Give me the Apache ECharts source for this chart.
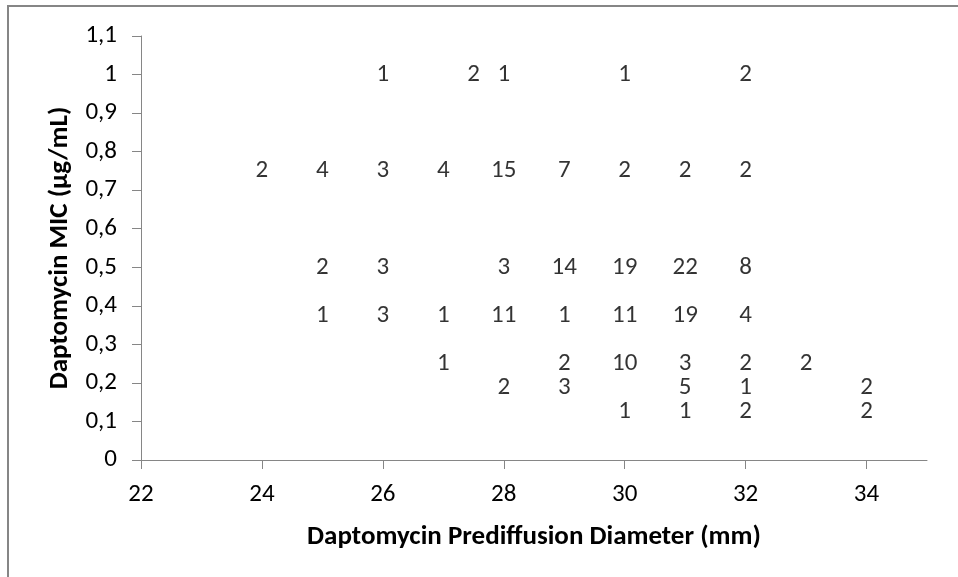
<!DOCTYPE html>
<html>
<head>
<meta charset="utf-8">
<script src="https://cdn.jsdelivr.net/npm/echarts@6/dist/echarts.min.js"></script>
<style>
  html, body { margin: 0; padding: 0; background: #fff; }
  #chart { width: 958px; height: 577px; }
</style>
</head>
<body>
<div id="chart"></div>
<script>
// Prediffusion disk diameter (mm), MIC (µg/mL) and isolate count at each point
const diameters = [
  26, 27.5, 28, 30, 32,
  24, 25, 26, 27, 28, 29, 30, 31, 32,
  25, 26, 28, 29, 30, 31, 32,
  25, 26, 27, 28, 29, 30, 31, 32,
  27, 29, 30, 31, 32, 33,
  28, 29, 31, 32, 34,
  30, 31, 32, 34
];
const mics = [
  1, 1, 1, 1, 1,
  0.75, 0.75, 0.75, 0.75, 0.75, 0.75, 0.75, 0.75, 0.75,
  0.5, 0.5, 0.5, 0.5, 0.5, 0.5, 0.5,
  0.375, 0.375, 0.375, 0.375, 0.375, 0.375, 0.375, 0.375,
  0.25, 0.25, 0.25, 0.25, 0.25, 0.25,
  0.1875, 0.1875, 0.1875, 0.1875, 0.1875,
  0.125, 0.125, 0.125, 0.125
];
const counts = [
  1, 2, 1, 1, 2,
  2, 4, 3, 4, 15, 7, 2, 2, 2,
  2, 3, 3, 14, 19, 22, 8,
  1, 3, 1, 11, 1, 11, 19, 4,
  1, 2, 10, 3, 2, 2,
  2, 3, 5, 1, 2,
  1, 1, 2, 2
];
const xTicks = [22, 24, 26, 28, 30, 32, 34];
const yTicks = [0, 0.1, 0.2, 0.3, 0.4, 0.5, 0.6, 0.7, 0.8, 0.9, 1, 1.1];

const xTitle = 'Daptomycin Prediffusion Diameter (mm)';
const yTitle = 'Daptomycin MIC (µg/mL)';

const FONT = 'Carlito, Lato, "Liberation Sans", sans-serif';
const AXIS_GREY = '#868686';
const TEXT = '#000000';
const NUM_SIZE = 25;
const TITLE_SIZE = 27;

const points = diameters.map((d, i) => [d, mics[i], counts[i]]);

const chart = echarts.init(document.getElementById('chart'), null, { renderer: 'canvas' });
chart.setOption({
  animation: false,
  backgroundColor: '#ffffff',
  graphic: [{
    type: 'rect',
    shape: { x: 8, y: 6, width: 1200, height: 1200 },
    style: { fill: 'none', stroke: AXIS_GREY, lineWidth: 2 },
    silent: true
  }],
  grid: { left: 141, top: 36, right: 31, bottom: 117 },
  xAxis: {
    type: 'value',
    min: 22, max: 35, interval: 2,
    name: xTitle,
    nameLocation: 'middle',
    nameGap: 64,
    nameTextStyle: { fontFamily: FONT, fontWeight: 'bold', fontSize: TITLE_SIZE, color: TEXT },
    axisLine: { show: true, onZero: false, lineStyle: { color: AXIS_GREY, width: 1 } },
    axisTick: { show: true, length: 9, customValues: xTicks, lineStyle: { color: AXIS_GREY } },
    axisLabel: {
      customValues: xTicks,
      margin: 22, fontFamily: FONT, fontSize: NUM_SIZE, color: TEXT
    },
    splitLine: { show: false }
  },
  yAxis: {
    type: 'value',
    min: 0, max: 1.1, interval: 0.1,
    name: yTitle,
    nameLocation: 'middle',
    nameGap: 67,
    nameRotate: 90,
    nameTextStyle: { fontFamily: FONT, fontWeight: 'bold', fontSize: TITLE_SIZE, color: TEXT },
    axisLine: { show: true, lineStyle: { color: AXIS_GREY, width: 1 } },
    axisTick: { show: true, length: 9, customValues: yTicks, lineStyle: { color: AXIS_GREY } },
    axisLabel: {
      customValues: yTicks,
      margin: 24, fontFamily: FONT, fontSize: NUM_SIZE, color: TEXT,
      formatter: v => String(Math.round(v * 10) / 10).replace('.', ',')
    },
    splitLine: { show: false }
  },
  series: [{
    type: 'scatter',
    data: points,
    symbol: 'circle',
    symbolSize: 1,
    itemStyle: { color: 'rgba(0,0,0,0)' },
    label: {
      show: true,
      position: 'inside',
      formatter: p => String(p.value[2]),
      fontFamily: FONT,
      fontSize: NUM_SIZE,
      color: TEXT
    },
    labelLayout: { hideOverlap: false },
    silent: true
  }]
});
</script>
</body>
</html>
